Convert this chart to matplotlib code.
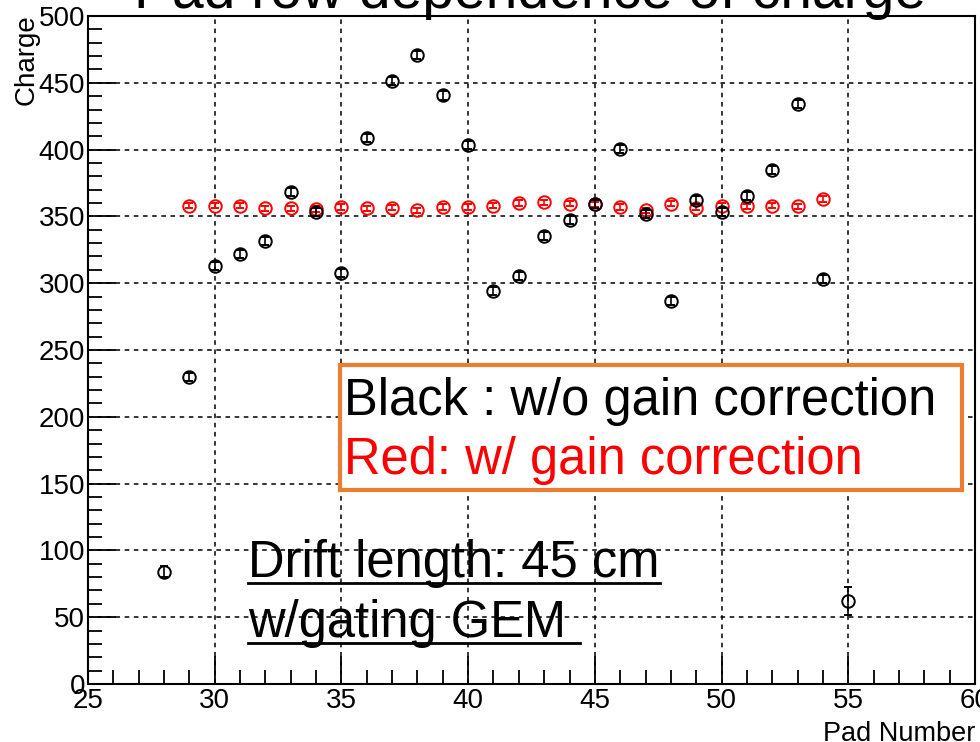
import numpy as np
import matplotlib
matplotlib.use("Agg")
import matplotlib.pyplot as plt
from matplotlib.lines import Line2D
from matplotlib.patches import Rectangle
from matplotlib.ticker import MultipleLocator

plt.rcParams['font.family'] = ['Liberation Sans', 'DejaVu Sans']

# black: without gain correction
pads_raw = np.arange(28, 56)
charge_raw = [84, 229.6, 313, 322, 331.7, 368.5, 353, 307.5, 409, 451.6,
              470.5, 440.5, 403.7, 294, 305.5, 335.5, 347.5, 359.5, 400.8, 352,
              286.7, 362, 353.5, 365.5, 385, 433.8, 303, 62]
err_raw = [4, 3, 3, 3, 3, 3, 3, 3, 3, 3,
           3, 3, 3, 3, 3, 3, 3, 3, 3, 3,
           3, 3, 3, 3, 3, 3, 3, 10.5]

# red: with gain correction
pads_corr = np.arange(29, 55)
charge_corr = [358, 358, 358, 356, 356, 355.5, 357, 356, 356.5, 354.5,
               357, 357, 358, 360, 360.5, 359.5, 359, 357, 354.5, 359.5,
               356.5, 358, 357.5, 358, 357.5, 363]
err_corr = [2] * len(pads_corr)

fig = plt.figure(figsize=(9.8, 7.42), dpi=100)
W, H = 980, 742
ax = fig.add_axes([88 / W, 58 / H, 887 / W, 668 / H])

ax.errorbar(pads_raw, charge_raw, yerr=err_raw, fmt='o', mfc='none', mec='black',
            ecolor='black', ms=9, mew=1.4, elinewidth=1.2, capsize=3, zorder=4)
ax.errorbar(pads_corr, charge_corr, yerr=err_corr, fmt='o', mfc='none', mec='red',
            ecolor='red', ms=9, mew=1.4, elinewidth=1.2, capsize=3, zorder=3)

ax.set_xlim(25, 60)
ax.set_ylim(0, 500)
ax.xaxis.set_major_locator(MultipleLocator(5))
ax.xaxis.set_minor_locator(MultipleLocator(1))
ax.yaxis.set_major_locator(MultipleLocator(50))
ax.yaxis.set_minor_locator(MultipleLocator(10))
ax.tick_params(which='both', direction='in', labelsize=20, width=1.3)
ax.tick_params(which='major', length=20)
ax.tick_params(which='minor', length=10)
ax.tick_params(axis='x', pad=3)
ax.tick_params(axis='y', pad=2)
ax.grid(True, which='major', color='black', linestyle=(0, (3, 3)), linewidth=1.1)
for s in ax.spines.values():
    s.set_linewidth(1.5)

ax.set_ylabel('Charge', fontsize=20)
ax.yaxis.set_label_coords(-0.054, 0.935)
ax.set_xlabel('Pad Number', fontsize=19.5)
ax.xaxis.set_label_coords(1.0, -0.055)
ax.xaxis.label.set_horizontalalignment('right')

# title, partly cut off at the top
fig.text(530 / W, 1 - 8 / H, 'Pad row dependence of charge', fontsize=41,
         ha='center', va='baseline')

# legend-like box
fig.add_artist(Rectangle((340 / W, 1 - 490 / H), 622 / W, 125 / H,
                         transform=fig.transFigure, fill=True, fc='white',
                         ec='#ed7d31', lw=3, zorder=5))
fig.text(344 / W, 1 - 415 / H, 'Black : w/o gain correction', fontsize=36.5,
         color='black', va='baseline', zorder=6)
fig.text(344 / W, 1 - 474 / H, 'Red: w/ gain correction', fontsize=36.5,
         color='red', va='baseline', zorder=6)

# drift length note, underlined
fig.text(248 / W, 1 - 577 / H, 'Drift length: 45 cm', fontsize=36.5, va='baseline')
fig.text(248 / W, 1 - 637 / H, 'w/gating GEM ', fontsize=36.5, va='baseline')
fig.add_artist(Line2D([248 / W, 660 / W], [1 - 583 / H, 1 - 583 / H],
                      transform=fig.transFigure, color='black', lw=2))
fig.add_artist(Line2D([248 / W, 580 / W], [1 - 643 / H, 1 - 643 / H],
                      transform=fig.transFigure, color='black', lw=2))

fig.savefig('out.png', dpi=100)
